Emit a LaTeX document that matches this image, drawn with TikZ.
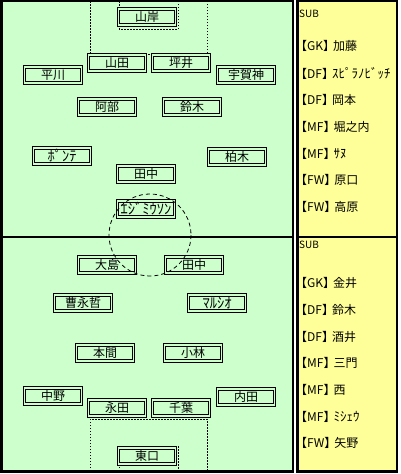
\documentclass[tikz,border=0pt]{standalone}
\usepackage{fontspec}
\newfontfamily\jp{Noto Sans CJK JP}
\definecolor{pitch}{HTML}{CCFFCC}
\definecolor{bench}{HTML}{FFFF99}
\newcommand{\kana}[1]{{\fontsize{14.5}{14.5}\selectfont #1}}
\newcommand{\subkana}[1]{{\fontsize{13}{13}\selectfont #1}}
\newcommand{\postag}[1]{\kern-4pt【#1】\kern-2pt}
\begin{document}
\begin{tikzpicture}[x=1pt,y=-1pt,
		player/.style={draw=black,fill=pitch,line width=0.8pt,double=pitch,double distance=1.6pt,minimum width=57pt,minimum height=16pt,inner sep=0pt,font=\jp\fontsize{12}{12}\selectfont},
		sub/.style={anchor=west,inner sep=0pt,font=\jp\fontsize{12}{12}\selectfont},
		area/.style={line width=0.9pt,dash pattern=on 1.5pt off 1.5pt}]
		\useasboundingbox (0,0) rectangle (400,474);
		\filldraw[fill=pitch,line width=2.5pt] (1.5,1.2) rectangle (293,471.5);
		\filldraw[fill=bench,line width=2.5pt] (297.5,1.2) rectangle (397,236.8);
		\filldraw[fill=bench,line width=2.5pt] (297.5,236.8) rectangle (397,471.5);
		\draw[line width=2.5pt] (1.5,236.8) -- (293,236.8);
		\draw[area] (90,1) -- (90,54) -- (207,54) -- (207,1);
		\draw[area] (119,1) -- (119,29) -- (178,29) -- (178,1);
		\draw[area] (90,471) -- (90,419) -- (207,419) -- (207,471);
		\draw[area] (119,471) -- (119,446) -- (178,446) -- (178,471);
		\node[player] (yamagishi) at (147,17) {山岸};
		\node[player] (yamada) at (117,63) {山田};
		\node[player] (tsuboi) at (181,63) {坪井};
		\node[player] (hirakawa) at (53,75) {平川};
		\node[player] (ugajin) at (246,75) {宇賀神};
		\node[player] (abe) at (107,107) {阿部};
		\node[player] (suzuki) at (192,107) {鈴木};
		\node[player] (ponte) at (62,156) {\kana{ﾎﾟﾝﾃ}};
		\node[player] (kashiwagi) at (237,157) {柏木};
		\node[player] (tanaka) at (146,174) {田中};
		\node[player] (edmilson) at (146,209) {\kana{ｴｼﾞﾐｳｿﾝ}};
		\node[player] (oshima) at (107,265) {大島};
		\node[player] (tanakab) at (194,265) {田中};
		\node[player] (cho) at (83,303) {曹永哲};
		\node[player] (marcio) at (217,303) {\kana{ﾏﾙｼｵ}};
		\node[player] (honma) at (105,353) {本間};
		\node[player] (kobayashi) at (193,353) {小林};
		\node[player] (nakano) at (53,396) {中野};
		\node[player] (uchida) at (246,397) {内田};
		\node[player] (nagata) at (117,408) {永田};
		\node[player] (chiba) at (181,408) {千葉};
		\node[player] (higashiguchi) at (147,456) {東口};
		\draw[line width=0.8pt,dash pattern=on 4pt off 3pt] (150,235) circle (41);
		\node[sub,font=\jp\fontsize{10}{10}\selectfont] (subA) at (299,14) {SUB};
		\node[sub] (subA1) at (299,46) {\postag{GK}加藤};
		\node[sub] (subA2) at (299,73) {\postag{DF}\subkana{ｽﾋﾟﾗﾉﾋﾞｯﾁ}};
		\node[sub] (subA3) at (299,100) {\postag{DF}岡本};
		\node[sub] (subA4) at (299,127) {\postag{MF}堀之内};
		\node[sub] (subA5) at (299,154) {\postag{MF}\subkana{ｻﾇ}};
		\node[sub] (subA6) at (299,180) {\postag{FW}原口};
		\node[sub] (subA7) at (299,207) {\postag{FW}高原};
		\node[sub,font=\jp\fontsize{10}{10}\selectfont] (subB) at (299,245) {SUB};
		\node[sub] (subB1) at (299,283) {\postag{GK}金井};
		\node[sub] (subB2) at (299,310) {\postag{DF}鈴木};
		\node[sub] (subB3) at (299,337) {\postag{DF}酒井};
		\node[sub] (subB4) at (299,363) {\postag{MF}三門};
		\node[sub] (subB5) at (299,390) {\postag{MF}西};
		\node[sub] (subB6) at (299,417) {\postag{MF}\subkana{ﾐｼｪｳ}};
		\node[sub] (subB7) at (299,443) {\postag{FW}矢野};
	\end{tikzpicture}
\end{document}
